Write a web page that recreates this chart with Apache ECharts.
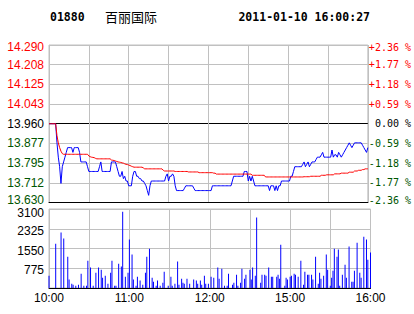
<!DOCTYPE html>
<html>
<head>
<meta charset="utf-8">
<script src="https://cdn.jsdelivr.net/npm/echarts@6/dist/echarts.min.js"></script>
<style>
html,body{margin:0;padding:0;background:#fff;}
#chart{width:414px;height:314px;}
</style>
</head>
<body>
<div id="chart"></div>
<script>
// ---------------- data ----------------
const stockCode = '01880';
const stockName = '百丽国际';
const timestamp = '2011-01-10 16:00:27';
const prevClose = 13.96;

const timeLabels = ['10:00', '11:00', '12:00', '15:00', '16:00'];
const priceTicks = ['13.630', '13.712', '13.795', '13.877', '13.960', '14.043', '14.125', '14.208', '14.290'];
const pctTicks = ['-2.36 %', '-1.77 %', '-1.18 %', '-0.59 %', '\u00a00.00 %', '+0.59 %', '+1.18 %', '+1.77 %', '+2.36 %'];
const volTicks = ['', '775', '1550', '2325', '3100'];

const priceMin = 13.63, priceMax = 14.29, priceStep = 0.0825;
const volMax = 3100, volStep = 775;
const minutes = 240;

// last price per minute (index 0 = 10:00)
const price = [
  13.96,13.96,13.96,13.96,13.96,13.96,13.88,13.82,13.78,13.71,
  13.78,13.80,13.82,13.84,13.86,13.86,13.86,13.86,13.84,13.86,
  13.86,13.86,13.86,13.84,13.80,13.80,13.80,13.80,13.80,13.78,
  13.76,13.76,13.76,13.76,13.76,13.76,13.76,13.76,13.78,13.80,
  13.76,13.76,13.76,13.76,13.76,13.76,13.76,13.80,13.80,13.80,
  13.80,13.78,13.76,13.74,13.74,13.76,13.73,13.74,13.72,13.72,
  13.70,13.70,13.70,13.74,13.76,13.76,13.74,13.74,13.73,13.73,
  13.72,13.72,13.71,13.70,13.68,13.66,13.70,13.72,13.72,13.72,
  13.72,13.72,13.72,13.72,13.72,13.72,13.72,13.72,13.74,13.75,
  13.72,13.74,13.74,13.75,13.74,13.70,13.68,13.68,13.68,13.68,
  13.68,13.68,13.69,13.70,13.70,13.70,13.70,13.70,13.70,13.69,
  13.68,13.68,13.68,13.68,13.68,13.68,13.68,13.68,13.68,13.68,
  13.68,13.68,13.68,13.70,13.70,13.70,13.70,13.70,13.70,13.70,
  13.70,13.70,13.70,13.70,13.70,13.70,13.70,13.70,13.72,13.74,
  13.74,13.74,13.74,13.74,13.74,13.74,13.74,13.76,13.76,13.76,
  13.72,13.74,13.72,13.74,13.72,13.70,13.70,13.70,13.70,13.70,
  13.70,13.70,13.70,13.70,13.70,13.70,13.68,13.70,13.70,13.70,
  13.68,13.70,13.68,13.70,13.70,13.72,13.72,13.72,13.72,13.72,
  13.72,13.72,13.74,13.74,13.76,13.78,13.78,13.78,13.78,13.78,
  13.78,13.79,13.80,13.78,13.79,13.80,13.78,13.79,13.80,13.80,
  13.80,13.81,13.82,13.82,13.82,13.83,13.84,13.82,13.82,13.82,
  13.82,13.82,13.82,13.85,13.82,13.83,13.83,13.82,13.84,13.83,
  13.82,13.83,13.84,13.85,13.86,13.87,13.88,13.87,13.86,13.87,
  13.88,13.88,13.88,13.88,13.88,13.88,13.87,13.86,13.85,13.84,
  13.86
];

// average price per minute
const avgPrice = [
  13.96,13.96,13.96,13.96,13.96,13.96,13.91,13.88,13.86,13.845,
  13.835,13.832,13.832,13.832,13.832,13.832,13.832,13.832,13.832,13.832,
  13.832,13.832,13.832,13.832,13.832,13.832,13.832,13.832,13.832,13.832,
  13.825,13.822,13.820,13.819,13.818,13.815,13.813,13.813,13.813,13.813,
  13.813,13.813,13.813,13.813,13.813,13.813,13.813,13.808,13.807,13.806,
  13.804,13.802,13.800,13.799,13.798,13.796,13.795,13.792,13.790,13.789,
  13.787,13.785,13.782,13.780,13.778,13.778,13.778,13.778,13.778,13.778,
  13.778,13.775,13.771,13.771,13.771,13.771,13.771,13.771,13.771,13.771,
  13.771,13.771,13.771,13.771,13.771,13.771,13.765,13.762,13.762,13.762,
  13.762,13.762,13.762,13.762,13.762,13.760,13.760,13.760,13.760,13.760,
  13.760,13.760,13.760,13.760,13.760,13.758,13.758,13.758,13.758,13.758,
  13.758,13.758,13.758,13.755,13.755,13.755,13.755,13.755,13.755,13.755,
  13.755,13.755,13.755,13.755,13.753,13.753,13.749,13.749,13.749,13.749,
  13.749,13.749,13.749,13.749,13.749,13.749,13.749,13.749,13.749,13.749,
  13.749,13.749,13.749,13.749,13.749,13.749,13.749,13.749,13.749,13.749,
  13.749,13.749,13.749,13.744,13.744,13.744,13.744,13.744,13.744,13.744,
  13.744,13.744,13.744,13.737,13.737,13.737,13.737,13.737,13.737,13.737,
  13.737,13.737,13.737,13.737,13.737,13.737,13.737,13.737,13.737,13.737,
  13.737,13.737,13.737,13.737,13.737,13.737,13.737,13.737,13.737,13.737,
  13.737,13.737,13.738,13.738,13.738,13.738,13.738,13.740,13.740,13.740,
  13.740,13.740,13.740,13.740,13.740,13.744,13.744,13.744,13.744,13.746,
  13.746,13.746,13.746,13.746,13.746,13.750,13.750,13.750,13.750,13.750,
  13.753,13.753,13.753,13.753,13.753,13.753,13.757,13.757,13.757,13.757,
  13.762,13.762,13.762,13.765,13.765,13.765,13.768,13.768,13.771,13.771,
  13.771
];

// volume bars: minute index and volume
const volMinute = [
  0,5,9,11,14,15,17,18,20,22,24,26,28,29,31,33,35,37,39,40,
  42,44,46,47,49,50,52,54,55,57,59,60,62,63,65,66,68,70,72,73,
  75,77,78,80,81,83,85,86,89,91,92,94,96,97,99,100,101,103,105,108,
  110,111,113,114,116,117,119,121,123,126,127,129,131,133,134,137,138,140,141,143,
  144,146,147,150,151,152,154,155,158,159,161,162,164,166,167,170,171,172,173,176,
  177,178,180,181,183,184,186,188,190,191,193,194,196,197,199,201,202,203,205,207,
  208,210,211,212,213,215,216,217,219,221,222,224,226,227,228,230,232,233,235,237,
  238,240
];
const volValue = [
  480,1740,2175,1940,1230,330,170,130,90,130,560,90,90,1070,800,90,600,800,720,400,
  480,170,600,1070,90,90,955,840,2990,440,600,1900,1310,330,90,440,290,130,600,1230,
  1545,400,250,90,290,90,210,640,90,440,90,170,1035,130,360,210,170,360,170,330,
  290,170,290,130,480,170,170,440,400,800,360,760,90,90,560,130,210,520,90,210,
  760,360,520,720,330,800,480,2765,210,520,520,480,800,440,440,440,520,360,1700,90,
  400,330,440,480,560,520,440,1070,130,640,520,520,520,330,1230,170,600,360,480,1310,
  720,90,400,680,1545,1230,1506,90,520,915,400,1624,250,250,680,1780,600,400,2015,1900,
  1110,1390
];

// ---------------- styles ----------------
const RED = '#ff0000', GREEN = '#005500', BLACK = '#000000', GRID = '#c0c0c0', BLUE = '#0000ff';
const priceGridColors = [BLACK, GRID, GRID, GRID, BLACK, GRID, GRID, GRID, GRID];

function tickIndex(v, min, step) { return Math.round((v - min) / step); }
function levelColor(v) {
  const k = tickIndex(v, priceMin, priceStep);
  return k < 4 ? GREEN : (k === 4 ? BLACK : RED);
}
// rich-text wrapper that nudges the extreme labels inside the panel
function levelLabel(list) {
  return function (v) {
    const k = tickIndex(v, priceMin, priceStep);
    const t = list[k];
    if (k === 0) return '{lo|' + t + '}';
    if (k === list.length - 1) return '{hi|' + t + '}';
    return t;
  };
}

const chart = echarts.init(document.getElementById('chart'), null, { renderer: 'svg' });

chart.setOption({
  animation: false,
  backgroundColor: '#ffffff',
  graphic: [
    { type: 'text', style: { x: 50, y: 17, text: stockCode, fontSize: 11.5, fontWeight: 'bold', fontFamily: 'DejaVu Sans Mono', fill: BLACK, verticalAlign: 'middle' } },
    { type: 'text', style: { x: 105, y: 16, text: stockName, fontSize: 13, fontFamily: 'Noto Sans CJK SC', fill: BLACK, verticalAlign: 'middle' } },
    { type: 'text', style: { x: 370, y: 17, text: timestamp, fontSize: 11.5, fontWeight: 'bold', fontFamily: 'DejaVu Sans Mono', fill: BLACK, align: 'right', verticalAlign: 'middle' } }
  ],
  grid: [
    { left: 49, top: 45, width: 321.5, height: 157.5, show: true, borderColor: GRID, borderWidth: 1, backgroundColor: 'transparent' },
    { left: 49, top: 209, width: 321.5, height: 79, show: true, borderColor: GRID, borderWidth: 1, backgroundColor: 'transparent' }
  ],
  xAxis: [
    {
      type: 'value', gridIndex: 0, min: 0, max: minutes, interval: 30,
      axisLine: { show: true, onZero: false, lineStyle: { color: BLACK, width: 1 } },
      axisTick: { show: false }, axisLabel: { show: false },
      splitLine: { show: true, lineStyle: { color: GRID, width: 1 } }
    },
    {
      type: 'value', gridIndex: 1, min: 0, max: minutes, interval: 30,
      axisLine: { show: true, onZero: false, lineStyle: { color: BLACK, width: 1 } },
      axisTick: { show: false },
      axisLabel: {
        margin: 4, fontSize: 12, fontFamily: 'Liberation Sans', color: BLACK,
        showMinLabel: true, showMaxLabel: true,
        formatter: function (v) { return v % 60 === 0 ? timeLabels[v / 60] : ''; }
      },
      splitLine: { show: true, lineStyle: { color: GRID, width: 1 } }
    }
  ],
  yAxis: [
    {
      type: 'value', gridIndex: 0, position: 'left', min: priceMin, max: priceMax, interval: priceStep,
      axisLine: { show: false }, axisTick: { show: false },
      splitLine: { show: true, lineStyle: { color: priceGridColors, width: 1 } },
      axisLabel: {
        margin: 5, fontSize: 12, fontFamily: 'Liberation Sans',
        formatter: levelLabel(priceTicks),
        color: levelColor,
        rich: {
          lo: { color: GREEN, fontSize: 12, fontFamily: 'Liberation Sans', padding: [0, 0, 5, 0] },
          hi: { color: RED, fontSize: 12, fontFamily: 'Liberation Sans', padding: [4, 0, 0, 0] }
        }
      }
    },
    {
      type: 'value', gridIndex: 0, position: 'right', min: priceMin, max: priceMax, interval: priceStep,
      axisLine: { show: false }, axisTick: { show: false }, splitLine: { show: false },
      axisLabel: {
        margin: 1, fontSize: 10, fontFamily: 'DejaVu Sans Mono',
        formatter: levelLabel(pctTicks),
        color: levelColor,
        rich: {
          lo: { color: GREEN, fontSize: 10, fontFamily: 'DejaVu Sans Mono', padding: [0, 0, 5, 0] },
          hi: { color: RED, fontSize: 10, fontFamily: 'DejaVu Sans Mono', padding: [4, 0, 0, 0] }
        }
      }
    },
    {
      type: 'value', gridIndex: 1, position: 'left', min: 0, max: volMax, interval: volStep,
      axisLine: { show: false }, axisTick: { show: false },
      splitLine: { show: true, lineStyle: { color: GRID, width: 1 } },
      axisLabel: {
        margin: 5, fontSize: 12, fontFamily: 'Liberation Sans', color: BLACK,
        formatter: function (v) {
          const k = tickIndex(v, 0, volStep);
          return k === volTicks.length - 1 ? '{top|' + volTicks[k] + '}' : '{mid|' + volTicks[k] + '}';
        },
        rich: {
          top: { color: BLACK, fontSize: 12, fontFamily: 'Liberation Sans', padding: [7, 0, 0, 0] },
          mid: { color: BLACK, fontSize: 12, fontFamily: 'Liberation Sans', padding: [4, 0, 0, 0] }
        }
      }
    }
  ],
  series: [
    {
      name: 'price', type: 'line', xAxisIndex: 0, yAxisIndex: 0,
      data: price.map(function (p, i) { return [i, p]; }),
      showSymbol: false, symbol: 'none',
      lineStyle: { color: BLUE, width: 1 }, z: 3
    },
    {
      name: 'avg', type: 'line', xAxisIndex: 0, yAxisIndex: 0,
      data: avgPrice.map(function (p, i) { return [i, p]; }),
      showSymbol: false, symbol: 'none',
      lineStyle: { color: RED, width: 1 }, z: 4
    },
    {
      name: 'volume', type: 'bar', xAxisIndex: 1, yAxisIndex: 2,
      data: volMinute.map(function (m, k) { return [m, volValue[k]]; }),
      barWidth: 1, itemStyle: { color: BLUE }
    }
  ]
});
</script>
</body>
</html>
